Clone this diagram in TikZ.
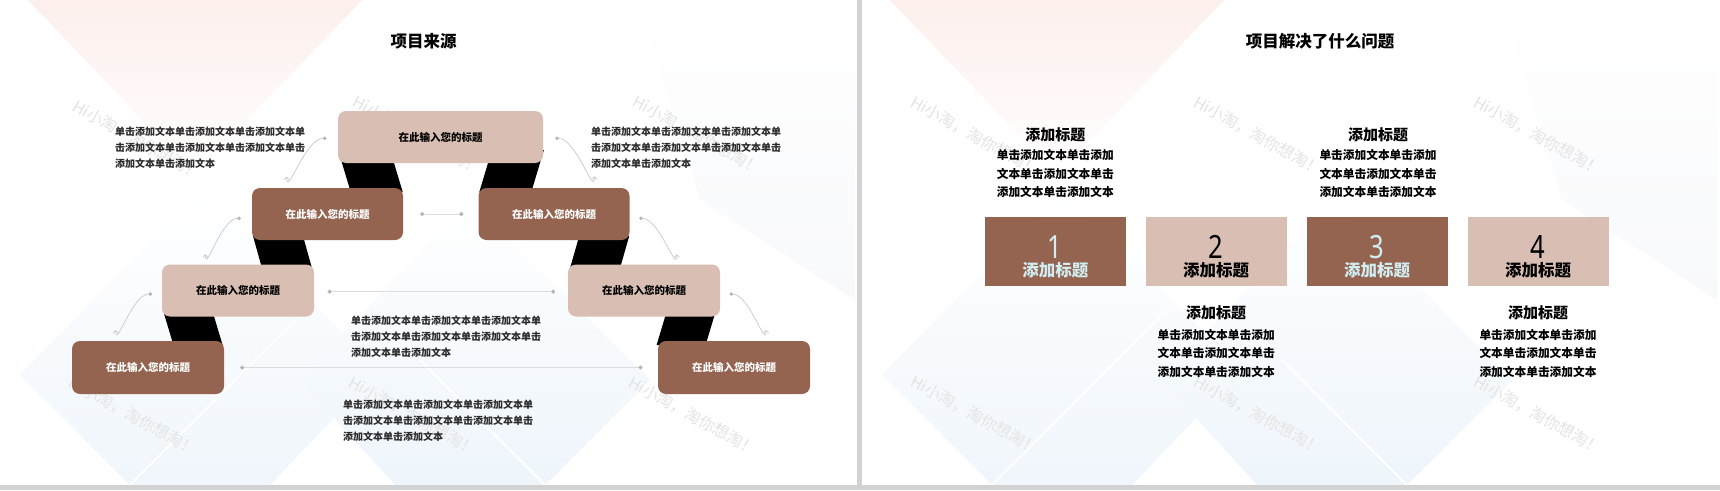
\documentclass[tikz,border=0pt]{standalone}
\usepackage{fontspec}
\newfontfamily\cjk{Noto Sans CJK SC}
\newfontfamily\digitfont{Noto Sans}[FakeStretch=0.8]
\usetikzlibrary{arrows.meta}
\definecolor{boxdark}{HTML}{946450}
\definecolor{boxlight}{HTML}{D9BFB3}
\definecolor{numcyan}{HTML}{D0EEF1}
\definecolor{txtgray}{HTML}{2A2A2A}
\definecolor{linegray}{HTML}{D9DCE0}
\definecolor{dotgray}{HTML}{B5B5B5}
\definecolor{arcgray}{HTML}{C9C9C9}
\definecolor{divgray}{HTML}{D2D2D2}
\definecolor{bgpink}{HTML}{FCEFEC}
\definecolor{bgblue}{HTML}{F0F6FC}
\definecolor{bgblue2}{HTML}{EEF5FB}
\definecolor{bggray}{HTML}{F8F9FB}
\definecolor{wmgray}{HTML}{E4E4E4}
\tikzset{
  lbox/.style={rounded corners=8pt, fill=boxlight, minimum width=152pt, minimum height=52pt, inner sep=0pt,
    font=\cjk\bfseries\fontsize{10.5}{12}\selectfont, text=black},
  dbox/.style={lbox, fill=boxdark, text=white},
  bodytxt/.style={font=\cjk\bfseries\fontsize{10}{16}\selectfont, text=txtgray, align=left, inner sep=0pt, anchor=west},
  ttl/.style={font=\cjk\bfseries\fontsize{16.5}{18}\selectfont, text=black, inner sep=0pt},
  hline/.style={draw=linegray, line width=1pt, {Circle[length=4pt,color=dotgray]}-{Circle[length=4pt,color=dotgray]}},
  arcline/.style={draw=arcgray, line width=0.7pt, {Circle[length=3.5pt,color=dotgray]}-{Straight Barb[length=2.5pt,width=5pt]}},
  band/.style={fill=black},
  sqd/.style={fill=boxdark, minimum width=141pt, minimum height=69pt, inner sep=0pt},
  sql/.style={sqd, fill=boxlight},
  digitd/.style={font=\digitfont\fontsize{32}{34}\selectfont, text=numcyan, inner sep=0pt},
  digitl/.style={digitd, text=black},
  sqlabd/.style={font=\cjk\bfseries\fontsize{16.5}{18}\selectfont, text=numcyan, inner sep=0pt},
  sqlabl/.style={sqlabd, text=black},
  headtxt/.style={font=\cjk\bfseries\fontsize{15}{17}\selectfont, text=black, inner sep=0pt},
  smalltxt/.style={font=\cjk\bfseries\fontsize{11.7}{18.6}\selectfont, text=black, align=center, inner sep=0pt},
  wmark/.style={font=\cjk\fontsize{16}{18}\selectfont, text=wmgray, rotate=-29, inner sep=0pt}
}
\begin{document}
\begin{tikzpicture}[x=1pt,y=-1pt]
\useasboundingbox (0,0) rectangle (1720,490);
\fill[white] (0,0) rectangle (1720,490);
% background decoration of both slides
\foreach \o in {0,862}{
  \begin{scope}[xshift=\o pt]
    \shade[top color=bgpink, bottom color=white] (28,0) -- (362,0) -- (195,175) -- cycle;
    \shade[top color=white, bottom color=bggray] (640,0) -- (855,0) -- (855,300) -- (700,200) -- cycle;
    \shade[top color=white, bottom color=bgblue] (200,190) -- (380,370) -- (270,485) -- (130,485) -- (20,375) -- cycle;
    \shade[top color=white, bottom color=bgblue2] (470,200) -- (650,380) -- (545,485) -- (395,485) -- (300,380) -- cycle;
    \draw[white, line width=2pt] (130,485) -- (330,285);
    \draw[white, line width=2pt] (545,485) -- (420,360);
  \end{scope}
}
% watermarks
\foreach \wx/\wy in {137/140, 417/135, 697/135, 133/416, 413/416, 693/416, 975/136, 1258/136, 1538/136, 975/415, 1258/415, 1538/415}{
  \node[wmark] at (\wx,\wy) {Hi小淘，淘你想淘！};
}
% dividers
\fill[divgray] (857,0) rectangle (862,490);
\fill[divgray] (0,485) rectangle (1720,490);

% ================= left slide =================
\node[ttl] (title1) at (423.5,41.7) {项目来源};

% black ribbons behind the boxes
\fill[band] (338.1,150) -- (390.1,150) -- (402.7,192) -- (350.7,192) -- cycle;
\fill[band] (491.9,150) -- (543.9,150) -- (531.3,192) -- (479.3,192) -- cycle;
\fill[band] (253,236) -- (303,236) -- (312.2,269) -- (262.2,269) -- cycle;
\fill[band] (579.2,236) -- (629.2,236) -- (619.8,269) -- (569.8,269) -- cycle;
\fill[band] (163.8,313) -- (213,313) -- (222.6,345) -- (173.4,345) -- cycle;
\fill[band] (666.2,313) -- (715.2,313) -- (705.6,345) -- (656.6,345) -- cycle;

\node[lbox, minimum width=205pt] (t) at (440.5,137) {在此输入您的标题};
\node[dbox, minimum width=151pt] (ml) at (327.5,214) {在此输入您的标题};
\node[dbox, minimum width=151pt] (mr) at (554,214) {在此输入您的标题};
\node[lbox] (ll) at (238,290.5) {在此输入您的标题};
\node[lbox] (lr) at (644,290.5) {在此输入您的标题};
\node[dbox, minimum height=53pt] (bl) at (148,367.5) {在此输入您的标题};
\node[dbox, minimum height=53pt] (br) at (734,367.5) {在此输入您的标题};

% straight connectors
\draw[hline] ([xshift=17pt]ml.east) -- ([xshift=-15pt]mr.west);
\draw[hline] ([xshift=13.5pt,yshift=-1.2pt]ll.east) -- ([xshift=-12.6pt,yshift=-1.2pt]lr.west);
\draw[hline] ([xshift=16pt]bl.east) -- ([xshift=-15.3pt]br.west);

% curved arrows
\coordinate (a1e) at (286.7,176.7);
\coordinate (a2e) at (594.5,176.5);
\coordinate (a3e) at (205.4,254.3);
\coordinate (a4e) at (676.8,254.3);
\coordinate (a5e) at (115.7,330);
\coordinate (a6e) at (766,330);
\draw[arcline] ([xshift=-11.3pt,yshift=-1.3pt]t.west) to[out=180,in=-90] (a1e);
\draw[arcline] ([xshift=12pt,yshift=-1.3pt]t.east) to[out=0,in=-90] (a2e);
\draw[arcline] ([xshift=-11pt,yshift=-4.3pt]ml.west) to[out=180,in=-90] (a3e);
\draw[arcline] ([xshift=9.5pt,yshift=-4.3pt]mr.east) to[out=0,in=-90] (a4e);
\draw[arcline] ([xshift=-9.7pt,yshift=-3.5pt]ll.west) to[out=180,in=-90] (a5e);
\draw[arcline] ([xshift=9.3pt,yshift=-3.5pt]lr.east) to[out=0,in=-90] (a6e);

% text blocks
\node[bodytxt] (txt1) at (115,147.3) {单击添加文本单击添加文本单击添加文本单\\击添加文本单击添加文本单击添加文本单击\\添加文本单击添加文本};
\node[bodytxt] (txt2) at (590.8,147.3) {单击添加文本单击添加文本单击添加文本单\\击添加文本单击添加文本单击添加文本单击\\添加文本单击添加文本};
\node[bodytxt] (txt3) at (351,336.7) {单击添加文本单击添加文本单击添加文本单\\击添加文本单击添加文本单击添加文本单击\\添加文本单击添加文本};
\node[bodytxt] (txt4) at (342.8,421) {单击添加文本单击添加文本单击添加文本单\\击添加文本单击添加文本单击添加文本单击\\添加文本单击添加文本};

% ================= right slide =================
\node[ttl] (title2) at (1320,41.7) {项目解决了什么问题};

\node[sqd] (s1) at (1055.3,251.2) {};
\node[sql] (s2) at (1216.2,251.2) {};
\node[sqd] (s3) at (1377.2,251.2) {};
\node[sql] (s4) at (1538,251.2) {};

\node[digitd] (n1) at (1055.3,246.7) {1};
\node[digitl] (n2) at (1216.2,246.7) {2};
\node[digitd] (n3) at (1377.2,246.7) {3};
\node[digitl] (n4) at (1538,246.7) {4};
\node[sqlabd] (l1) at (1055.3,270) {添加标题};
\node[sqlabl] (l2) at (1216.2,270) {添加标题};
\node[sqlabd] (l3) at (1377.2,270) {添加标题};
\node[sqlabl] (l4) at (1538,270) {添加标题};

\node[headtxt] (h1) at (1055.3,135) {添加标题};
\node[smalltxt] (b1) at (1055.3,173.6) {单击添加文本单击添加\\文本单击添加文本单击\\添加文本单击添加文本};
\node[headtxt] (h3) at (1378,135) {添加标题};
\node[smalltxt] (b3) at (1378,173.6) {单击添加文本单击添加\\文本单击添加文本单击\\添加文本单击添加文本};
\node[headtxt] (h2) at (1216.2,312.7) {添加标题};
\node[smalltxt] (b2) at (1216.2,353.3) {单击添加文本单击添加\\文本单击添加文本单击\\添加文本单击添加文本};
\node[headtxt] (h4) at (1538,312.7) {添加标题};
\node[smalltxt] (b4) at (1538,353.3) {单击添加文本单击添加\\文本单击添加文本单击\\添加文本单击添加文本};
\end{tikzpicture}
\end{document}
